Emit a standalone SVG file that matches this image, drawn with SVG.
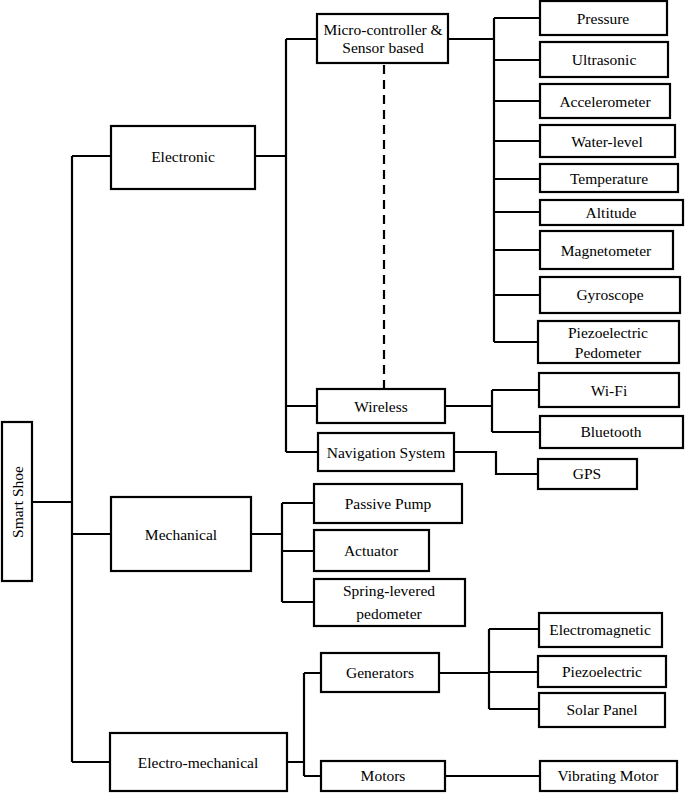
<svg xmlns="http://www.w3.org/2000/svg" width="685" height="793" viewBox="0 0 685 793">
<style>
rect.b{fill:#fff;stroke:#000;stroke-width:2.2}
text{font-family:"Liberation Serif","Times New Roman","DejaVu Serif",serif;font-size:15.5px;fill:#000;text-anchor:middle;dominant-baseline:central}
#connectors path{fill:none;stroke:#000;stroke-width:2.2}
</style>
<rect width="685" height="793" fill="#fff"/>
<g id="connectors">
<path d="M32 502H72M72 156V762M72 156H111M72 534H111M72 762H110"/>
<path d="M255 156H286M286 39V452M286 39H317M286 406H317M286 452H318"/>
<path d="M384 65V388" stroke-dasharray="9,6"/>
<path d="M448 39H494M494 18V342M494 18H540M494 60H540M494 101H540M494 141H540M494 179H540M494 212H540M494 250H540M494 295H540M494 342H538"/>
<path d="M445 406H492M492 390V432M492 390H539M492 432H540"/>
<path d="M454 452H496V474H538"/>
<path d="M251 534H282M282 503V602M282 503H314M282 551H314M282 602H314"/>
<path d="M287 762H304M304 673V776M304 673H321M304 776H321"/>
<path d="M439 673H489M489 629V709M489 629H539M489 672H538M489 709H539"/>
<path d="M445 776H540"/>
</g>
<g id="smart-shoe"><rect class="b" x="2" y="422" width="30" height="159"/><text transform="translate(17 502) rotate(-90)">Smart Shoe</text></g>
<g id="electronic"><rect class="b" x="111" y="126" width="144" height="63"/><text x="183" y="156">Electronic</text></g>
<g id="mechanical"><rect class="b" x="111" y="497" width="140" height="74"/><text x="181" y="534">Mechanical</text></g>
<g id="electro-mechanical"><rect class="b" x="110" y="733" width="177" height="58"/><text x="198" y="762">Electro-mechanical</text></g>
<g id="micro"><rect class="b" x="317" y="14" width="131" height="49"/><text x="383" y="29">Micro-controller &amp;</text><text x="383" y="47">Sensor based</text></g>
<g id="wireless"><rect class="b" x="317" y="389" width="128" height="34"/><text x="381" y="406">Wireless</text></g>
<g id="navigation"><rect class="b" x="318" y="433" width="136" height="38"/><text x="386" y="452">Navigation System</text></g>
<g id="pressure"><rect class="b" x="540" y="1" width="127" height="34"/><text x="603" y="18">Pressure</text></g>
<g id="ultrasonic"><rect class="b" x="540" y="42" width="128" height="35"/><text x="604" y="59">Ultrasonic</text></g>
<g id="accelerometer"><rect class="b" x="540" y="84" width="130" height="34"/><text x="605" y="101">Accelerometer</text></g>
<g id="water-level"><rect class="b" x="540" y="125" width="135" height="32"/><text x="607" y="141">Water-level</text></g>
<g id="temperature"><rect class="b" x="540" y="164" width="138" height="28"/><text x="609" y="178">Temperature</text></g>
<g id="altitude"><rect class="b" x="540" y="200" width="143" height="25"/><text x="611" y="212">Altitude</text></g>
<g id="magnetometer"><rect class="b" x="540" y="231" width="133" height="38"/><text x="606" y="250">Magnetometer</text></g>
<g id="gyroscope"><rect class="b" x="540" y="277" width="140" height="36"/><text x="610" y="294">Gyroscope</text></g>
<g id="piezo-pedometer"><rect class="b" x="538" y="321" width="141" height="42"/><text x="608" y="332">Piezoelectric</text><text x="608" y="352">Pedometer</text></g>
<g id="wifi"><rect class="b" x="539" y="373" width="140" height="34"/><text x="609" y="390">Wi-Fi</text></g>
<g id="bluetooth"><rect class="b" x="540" y="416" width="143" height="32"/><text x="611" y="431">Bluetooth</text></g>
<g id="gps"><rect class="b" x="538" y="459" width="99" height="30"/><text x="587" y="473">GPS</text></g>
<g id="passive-pump"><rect class="b" x="314" y="484" width="148" height="39"/><text x="388" y="503">Passive Pump</text></g>
<g id="actuator"><rect class="b" x="314" y="530" width="115" height="41"/><text x="371" y="550">Actuator</text></g>
<g id="spring"><rect class="b" x="314" y="579" width="151" height="47"/><text x="389" y="590">Spring-levered</text><text x="389" y="613">pedometer</text></g>
<g id="generators"><rect class="b" x="321" y="653" width="118" height="39"/><text x="380" y="672">Generators</text></g>
<g id="motors"><rect class="b" x="321" y="761" width="124" height="30"/><text x="383" y="775">Motors</text></g>
<g id="electromagnetic"><rect class="b" x="539" y="613" width="123" height="34"/><text x="600" y="629">Electromagnetic</text></g>
<g id="piezoelectric"><rect class="b" x="538" y="656" width="128" height="31"/><text x="602" y="671">Piezoelectric</text></g>
<g id="solar"><rect class="b" x="539" y="693" width="126" height="34"/><text x="602" y="709">Solar Panel</text></g>
<g id="vibrating"><rect class="b" x="540" y="761" width="137" height="30"/><text x="608" y="775">Vibrating Motor</text></g>
</svg>
